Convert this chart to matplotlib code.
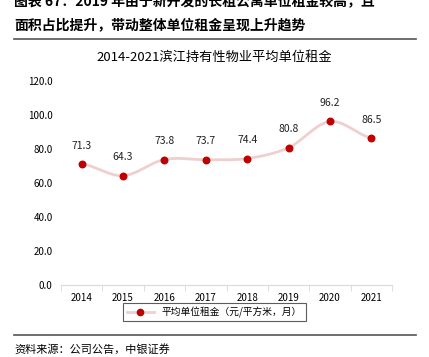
import numpy as np
import matplotlib.pyplot as plt
from matplotlib.lines import Line2D

plt.rcParams['font.family'] = ['Noto Sans CJK SC', 'DejaVu Sans']

years = ['2014', '2015', '2016', '2017', '2018', '2019', '2020', '2021']
rent = [71.3, 64.3, 73.8, 73.7, 74.4, 80.8, 96.2, 86.5]
yticks = [0, 20, 40, 60, 80, 100, 120]

title = '2014-2021滨江持有性物业平均单位租金'
series_name = '平均单位租金（元/平方米，月）'
head1 = '图表 67：2019 年由于新开发的长租公寓单位租金较高，且'
head2 = '面积占比提升，带动整体单位租金呈现上升趋势'
source = '资料来源：公司公告，中银证券'

line_c = '#efcfcf'
dot_c = '#c00000'

fig = plt.figure(figsize=(4.29, 3.57), dpi=100)
ax = fig.add_axes([0.142, 0.202, 0.772, 0.571])

# smooth line through the points (Catmull-Rom)
x = np.arange(len(rent))
y = np.array(rent)
xs, ys = [], []
for i in range(len(x) - 1):
    p0 = y[max(i - 1, 0)]
    p1, p2 = y[i], y[i + 1]
    p3 = y[min(i + 2, len(y) - 1)]
    t = np.linspace(0, 1, 30)
    seg = 0.5 * ((2 * p1) + (-p0 + p2) * t + (2 * p0 - 5 * p1 + 4 * p2 - p3) * t ** 2
                 + (-p0 + 3 * p1 - 3 * p2 + p3) * t ** 3)
    xs.extend(x[i] + t)
    ys.extend(seg)
ax.plot(xs, ys, color=line_c, lw=2, zorder=2)
ax.scatter(x, y, s=22, color=dot_c, zorder=3)
for xi, yi in zip(x, y):
    ax.annotate(f'{yi:.1f}', (xi, yi), xytext=(0, 9.5), textcoords='offset points',
                ha='center', va='bottom', fontsize=7.5, color='#222222')

ax.set_xlim(-0.5, len(years) - 0.5)
ax.set_ylim(0, 120)
ax.set_yticks(yticks)
ax.set_yticklabels([f'{v:.1f}' for v in yticks], fontsize=7)
ax.set_xticks(x)
ax.set_xticklabels(years, fontsize=7)
ax.set_xticks(np.arange(-0.5, len(years)), minor=True)
ax.tick_params(axis='x', which='major', length=0, pad=6)
ax.tick_params(axis='x', which='minor', length=4, color='#d9d9d9')
ax.tick_params(axis='y', length=0, pad=6)
for s in ['top', 'right', 'left']:
    ax.spines[s].set_visible(False)
ax.spines['bottom'].set_color('#d9d9d9')

fig.text(0.5, 0.838, title, ha='center', va='center', fontsize=9.5)

h = Line2D([], [], color=line_c, lw=2, marker='o', markersize=4.5,
           markerfacecolor=dot_c, markeredgecolor=dot_c)
leg = fig.legend([h], [series_name], loc='center', bbox_to_anchor=(0.5, 0.126),
                 fontsize=7, frameon=True, fancybox=False, handlelength=2.8,
                 borderpad=0.35)
leg.get_frame().set_edgecolor('#333333')
leg.get_frame().set_linewidth(0.8)

fig.text(0.033, 0.995, head1, ha='left', va='center', fontsize=10, fontweight='bold')
fig.text(0.033, 0.93, head2, ha='left', va='center', fontsize=10, fontweight='bold')
fig.add_artist(Line2D([0.033, 0.97], [0.891, 0.891], color='#555555', lw=1.2))
fig.add_artist(Line2D([0.033, 0.97], [0.062, 0.062], color='#555555', lw=1.2))
fig.text(0.033, 0.022, source, ha='left', va='center', fontsize=8, style='italic')

fig.savefig('out.png', dpi=100)
